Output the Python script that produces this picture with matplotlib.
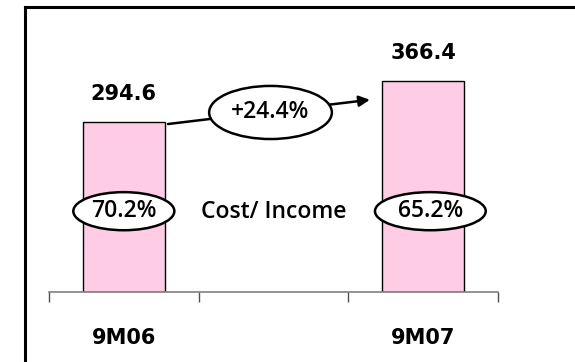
import matplotlib
matplotlib.use("Agg")
import matplotlib.pyplot as plt
from matplotlib.patches import Ellipse
from matplotlib.lines import Line2D

# revenue bars (the middle slot is left empty)
periods = ["9M06", "", "9M07"]
revenue = [294.6, None, 366.4]
value_labels = ["294.6", "", "366.4"]

# cost / income ratios shown in the ovals
cost_income = ["70.2%", "65.2%"]
growth_label = "+24.4%"

plt.rcParams["font.family"] = "DejaVu Sans"
oval_font = dict(family=["Open Sans", "DejaVu Sans"], fontweight="semibold", fontsize=16.5)

fig = plt.figure(figsize=(5.75, 3.62), dpi=100)
ax = fig.add_axes([49 / 575, 70 / 362, 449 / 575, 284 / 362])

x = [i for i, v in enumerate(revenue) if v is not None]
h = [v for v in revenue if v is not None]
ax.bar(x, h, width=0.55, color="#FFCCE6", edgecolor="black", linewidth=1, zorder=2)

for i, v in enumerate(revenue):
    if v is None:
        continue
    ax.annotate(value_labels[i], (i, v), xytext=(0, 20), textcoords="offset points",
                ha="center", va="center", fontsize=15, fontweight="bold")

ax.set_xlim(-0.5, 2.5)
ax.set_ylim(0, 492)

# axis: only the bottom spine, boundary ticks, category labels in between
for s in ["left", "right", "top"]:
    ax.spines[s].set_visible(False)
ax.spines["bottom"].set_color("#808080")
ax.spines["bottom"].set_linewidth(1.2)
ax.set_yticks([])
ax.set_xticks([-0.5, 0.5, 1.5, 2.5])
ax.set_xticklabels([])
ax.tick_params(axis="x", which="major", length=7.5, width=1, color="#505050", direction="out")
ax.set_xticks([0, 1, 2], minor=True)
ax.set_xticklabels(periods, minor=True, fontsize=15, fontweight="bold")
ax.tick_params(axis="x", which="minor", length=0, pad=26)

# growth arrow with the oval label on top of it
ax.annotate("", xy=(1.644, 333), xytext=(0.295, 291),
            arrowprops=dict(arrowstyle="-|>", color="black", lw=1.8, mutation_scale=16,
                            shrinkA=0, shrinkB=0), zorder=3)
ax.add_patch(Ellipse((0.98, 311), 0.82, 92, facecolor="white", edgecolor="black",
                     linewidth=1.8, zorder=4))
ax.text(0.98, 311, growth_label, ha="center", va="center", zorder=5, **oval_font)

# cost / income ovals
for cx, w, txt in zip([0.0, 2.048], [0.675, 0.74], cost_income):
    ax.add_patch(Ellipse((cx, 140), w, 66, facecolor="white", edgecolor="black",
                         linewidth=1.8, zorder=4))
    ax.text(cx, 140, txt, ha="center", va="center", zorder=5, **oval_font)
ax.text(1.0, 138, "Cost/ Income", ha="center", va="center", **oval_font)

# outer frame, cut off at the right and bottom edges
fig.add_artist(Line2D([25.5 / 575, 25.5 / 575], [0, 1 - 7 / 362],
                      transform=fig.transFigure, color="black", lw=2.2))
fig.add_artist(Line2D([25.5 / 575, 1], [1 - 7 / 362, 1 - 7 / 362],
                      transform=fig.transFigure, color="black", lw=2.2))

fig.savefig("out.png", dpi=100)
